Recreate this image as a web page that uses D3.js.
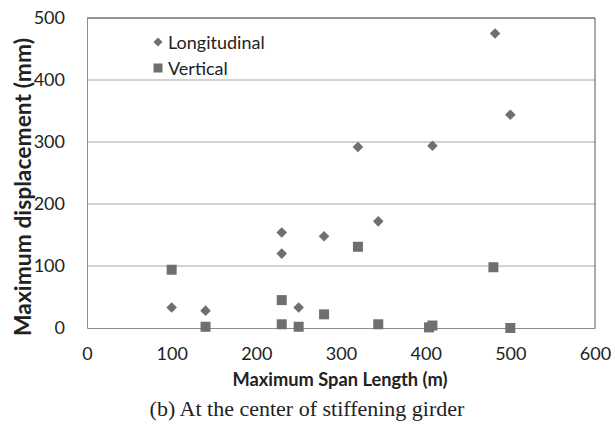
<!DOCTYPE html>
<html>
<head>
<meta charset="utf-8">
<script src="https://cdn.jsdelivr.net/npm/d3@7"></script>
<style>
  body { margin: 0; background: #fff; }
  text { font-family: Lato, "Open Sans", sans-serif; fill: #222; }
</style>
</head>
<body>
<svg id="chart" width="615" height="429"></svg>
<script>
"use strict";

// longitudinal displacement (diamonds)
var longSpan = [100, 140, 230, 230, 250, 280, 320, 344, 408, 482, 500];
var longDisp = [33, 28, 154, 120, 33, 148, 292, 172, 294, 475, 344];

// vertical displacement (squares)
var vertSpan = [100, 140, 230, 230, 250, 280, 320, 344, 404, 408, 480, 500];
var vertDisp = [94, 2, 45, 6, 2, 22, 131, 6, 1, 4, 98, 0];

var xTicks = [0, 100, 200, 300, 400, 500, 600];
var yTicks = [0, 100, 200, 300, 400, 500];

var MarkColor = "#6f6f6f";

var svg = d3.select("#chart");
var margin = {left: 87, top: 18, right: 20, bottom: 101};
var width = 615 - margin.left - margin.right,
    height = 429 - margin.top - margin.bottom;

var x = d3.scaleLinear().domain([0, 600]).range([0, width]);
var y = d3.scaleLinear().domain([0, 500]).range([height, 0]);

var g = svg.append("g").attr("transform", "translate(" + margin.left + "," + margin.top + ")");

// gridlines
g.selectAll("line.grid")
    .data(yTicks.filter(function (d) { return d > 0; }))
    .enter()
    .append("line")
    .attr("class", "grid")
    .attr("x1", 0).attr("x2", width)
    .attr("y1", function (d) { return y(d); })
    .attr("y2", function (d) { return y(d); })
    .style("stroke", "#a6a6a6")
    .style("stroke-width", 1);

// plot border top/right
g.append("path")
    .attr("d", "M0," + y(500) + "H" + width + "V" + height)
    .style("fill", "none")
    .style("stroke", "#595959")
    .style("stroke-width", 1);

var xAxis = g.append("g")
    .attr("transform", "translate(0," + height + ")")
    .call(d3.axisBottom(x).tickValues(xTicks).tickSize(0).tickPadding(19));
xAxis.select(".domain").style("stroke", "#8c8c8c");
xAxis.selectAll("text").style("font-size", "18px").style("fill", "#222");

var yAxis = g.append("g")
    .call(d3.axisLeft(y).tickValues(yTicks).tickSize(0).tickPadding(22));
yAxis.select(".domain").style("stroke", "#8c8c8c");
yAxis.selectAll("text").style("font-size", "18px").style("fill", "#222");

var diamond = d3.symbol().type(d3.symbolSquare).size(56);

// markers
g.selectAll("path.long")
    .data(longSpan)
    .enter()
    .append("path")
    .attr("class", "long")
    .attr("d", diamond)
    .attr("transform", function (d, i) { return "translate(" + x(d) + "," + y(longDisp[i]) + ") rotate(45)"; })
    .style("fill", MarkColor);

g.selectAll("rect.vert")
    .data(vertSpan)
    .enter()
    .append("rect")
    .attr("class", "vert")
    .attr("x", function (d) { return x(d) - 5; })
    .attr("y", function (d, i) { return y(vertDisp[i]) - 5; })
    .attr("width", 10).attr("height", 10)
    .style("fill", MarkColor);

// legend
var legend = g.append("g").attr("transform", "translate(71,24)");
legend.append("path")
    .attr("d", d3.symbol().type(d3.symbolSquare).size(40))
    .attr("transform", "rotate(45)")
    .style("fill", MarkColor);
legend.append("text").attr("x", 10).attr("y", 6.5).style("font-size", "18px").text("Longitudinal");
legend.append("rect").attr("x", -4.5).attr("y", 21.5).attr("width", 9).attr("height", 9).style("fill", MarkColor);
legend.append("text").attr("x", 10).attr("y", 32.5).style("font-size", "18px").text("Vertical");

// axis titles
svg.append("text")
    .attr("x", 340).attr("y", 386)
    .attr("text-anchor", "middle")
    .attr("textLength", 215).attr("lengthAdjust", "spacingAndGlyphs")
    .style("font-size", "18px").style("font-weight", "bold")
    .text("Maximum Span Length (m)");

svg.append("text")
    .attr("transform", "translate(31,187) rotate(-90)")
    .attr("text-anchor", "middle")
    .attr("textLength", 298).attr("lengthAdjust", "spacingAndGlyphs")
    .style("font-size", "22px").style("font-weight", "bold")
    .text("Maximum displacement (mm)");

// caption
svg.append("text")
    .attr("x", 307).attr("y", 416)
    .attr("text-anchor", "middle")
    .style("font-family", "'Liberation Serif', 'Times New Roman', serif")
    .style("font-size", "22px")
    .text("(b) At the center of stiffening girder");
</script>
</body>
</html>
